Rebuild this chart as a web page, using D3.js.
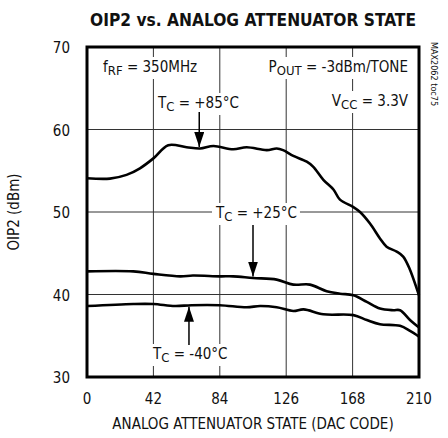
<!DOCTYPE html>
<html>
<head>
<meta charset="utf-8">
<script src="https://d3js.org/d3.v7.min.js"></script>
<style>
  body { margin: 0; background: #fff; }
  text { font-family: "Liberation Sans Narrow", "DejaVu Sans Condensed", sans-serif; fill: #111; }
</style>
</head>
<body>
<div id="vis"></div>
<script>
// data
const xTicks = [0, 42, 84, 126, 168, 210];
const yTicks = [30, 40, 50, 60, 70];

const dac85 = [0, 14.5, 25, 33.5, 42, 51.4, 63, 71.5, 80, 92.5, 101, 113.7, 120, 124, 130.5, 139, 143, 149.5, 156, 160, 168.5, 172.7, 179, 185.3, 189.5, 195.9, 200, 204.3, 210];
const oip85 = [54.1, 54.05, 54.5, 55.3, 56.5, 58.1, 57.85, 57.7, 58.0, 57.6, 57.85, 57.5, 57.7, 57.5, 56.8, 56.1, 55.5, 53.9, 52.7, 51.5, 50.6, 50.0, 48.6, 46.8, 45.8, 45.2, 44.6, 43.0, 39.9];

const dac25 = [0, 29.3, 42, 59, 67, 84, 92.5, 105, 120, 130.5, 141, 151.6, 160, 168.5, 177, 185.3, 193.7, 198, 204.3, 210];
const oip25 = [42.8, 42.8, 42.5, 42.2, 42.3, 42.2, 42.2, 42.0, 41.8, 41.2, 41.2, 40.4, 40.1, 39.9, 39.1, 38.3, 38.1, 38.1, 36.9, 36.0];

const dacM40 = [0, 29.3, 42, 55.6, 66, 84, 101, 109.5, 120, 130.5, 137, 149.5, 168.5, 177, 185.3, 198, 204.3, 210];
const oipM40 = [38.6, 38.85, 38.85, 38.6, 38.7, 38.7, 38.45, 38.6, 38.45, 38.0, 38.2, 37.6, 37.5, 36.9, 36.4, 36.2, 35.6, 34.9];

const width = 448, height = 438;
const margin = {top: 47, right: 29, bottom: 61, left: 87};

const svg = d3.select("#vis").append("svg")
  .attr("width", width).attr("height", height);

const x = d3.scaleLinear().domain([0, 210]).range([margin.left, width - margin.right]);
const y = d3.scaleLinear().domain([30, 70]).range([height - margin.bottom, margin.top]);

// title
svg.append("text")
  .attr("x", 253).attr("y", 26)
  .attr("text-anchor", "middle")
  .attr("font-size", 18).attr("font-weight", "bold")
  .attr("textLength", 326).attr("lengthAdjust", "spacingAndGlyphs")
  .text("OIP2 vs. ANALOG ATTENUATOR STATE");

// grid
const grid = svg.append("g").attr("stroke", "#333").attr("stroke-width", 1);
grid.selectAll(".vg").data(xTicks.slice(1, -1)).join("line")
  .attr("x1", d => x(d)).attr("x2", d => x(d))
  .attr("y1", y(30)).attr("y2", y(70));
grid.selectAll(".hg").data(yTicks.slice(1, -1)).join("line")
  .attr("x1", x(0)).attr("x2", x(210))
  .attr("y1", d => y(d)).attr("y2", d => y(d));

// axes tick labels
svg.append("g").selectAll("text").data(xTicks).join("text")
  .attr("x", d => x(d)).attr("y", y(30) + 27)
  .attr("text-anchor", "middle").attr("font-size", 15)
  .text(d => d);
svg.append("g").selectAll("text").data(yTicks).join("text")
  .attr("x", 70).attr("y", d => y(d) + 6)
  .attr("text-anchor", "end").attr("font-size", 15)
  .text(d => d);

svg.append("text")
  .attr("x", x(105)).attr("y", 429)
  .attr("text-anchor", "middle").attr("font-size", 15)
  .text("ANALOG ATTENUATOR STATE (DAC CODE)");

svg.append("text")
  .attr("transform", `translate(19,${(y(30) + y(70)) / 2}) rotate(-90)`)
  .attr("text-anchor", "middle").attr("font-size", 15)
  .text("OIP2 (dBm)");

svg.append("text")
  .attr("transform", `translate(431,42) rotate(90)`)
  .attr("font-size", 9)
  .text("MAX2062 toc75");

// labels with white boxes that break the grid
function label(px, py, parts, anchor, size) {
  const g = svg.append("g");
  const t = g.append("text").attr("x", px).attr("y", py)
    .attr("text-anchor", anchor || "start").attr("font-size", size || 15);
  parts.forEach(p => {
    const ts = t.append("tspan").text(p[0]);
    if (p[1]) ts.attr("font-size", 13).attr("dy", 3);
    else if (p[2]) ts.attr("dy", -3);
  });
  const b = t.node().getBBox();
  g.insert("rect", "text")
    .attr("x", b.x - 3).attr("y", b.y - 1)
    .attr("width", b.width + 6).attr("height", b.height + 2)
    .attr("fill", "#fff");
}

label(103, 72, [["f"], ["RF", 1], [" = 350MHz", 0, 1]]);
label(408, 72, [["P"], ["OUT", 1], [" = -3dBm/TONE", 0, 1]], "end");
label(408, 106, [["V"], ["CC", 1], [" = 3.3V", 0, 1]], "end");
label(158, 108, [["T"], ["C", 1], [" = +85°C", 0, 1]]);
label(216, 218, [["T"], ["C", 1], [" = +25°C", 0, 1]]);
label(153, 359, [["T"], ["C", 1], [" = -40°C", 0, 1]]);

// frame
svg.append("rect")
  .attr("x", x(0)).attr("y", y(70))
  .attr("width", x(210) - x(0)).attr("height", y(30) - y(70))
  .attr("fill", "none").attr("stroke", "#000").attr("stroke-width", 3);

// curves
const line = d3.line().curve(d3.curveCatmullRom.alpha(0.5))
  .x(d => x(d[0])).y(d => y(d[1]));
const series = [[dac85, oip85], [dac25, oip25], [dacM40, oipM40]];
svg.append("g").selectAll("path").data(series).join("path")
  .attr("d", s => line(d3.zip(s[0], s[1])))
  .attr("fill", "none").attr("stroke", "#000").attr("stroke-width", 2.6)
  .attr("stroke-linejoin", "round");

// arrows
svg.append("defs").append("marker")
  .attr("id", "ah").attr("viewBox", "0 0 15 10")
  .attr("refX", 15).attr("refY", 5)
  .attr("markerWidth", 15).attr("markerHeight", 10)
  .attr("markerUnits", "userSpaceOnUse")
  .attr("orient", "auto")
  .append("path").attr("d", "M0,0 L15,5 L0,10 Z").attr("fill", "#000");

const arrows = [[71, 112, 57.7], [105, 225, 42.0], [64.5, 345, 38.7]];
svg.append("g").selectAll("line").data(arrows).join("line")
  .attr("x1", d => x(d[0])).attr("x2", d => x(d[0]))
  .attr("y1", d => d[1])
  .attr("y2", d => y(d[2]) + (d[1] > y(d[2]) ? 1.5 : -1.5))
  .attr("stroke", "#000").attr("stroke-width", 1.5)
  .attr("marker-end", "url(#ah)");
</script>
</body>
</html>
